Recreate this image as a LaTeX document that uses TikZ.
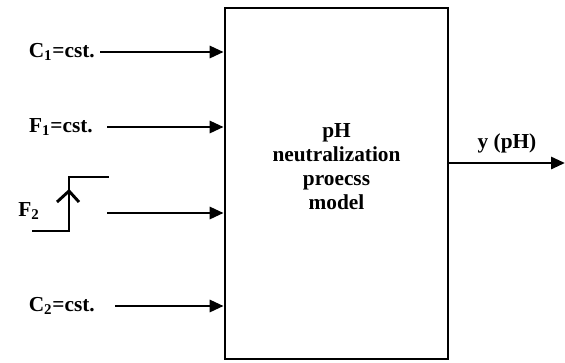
\documentclass[tikz,border=0pt]{standalone}
\usepackage{fontspec}
\setmainfont{Liberation Serif}
\usetikzlibrary{arrows.meta,positioning}
\tikzset{
  block/.style={draw=black, line width=2pt, minimum width=167.25pt, minimum height=263.25pt, inner sep=0pt, align=center, font=\bfseries\fontsize{16}{18.5}\selectfont},
  flow/.style={-{Triangle[length=10.5pt,width=9pt]}, black, line width=2.2pt},
  lab/.style={text=black, inner sep=0pt, font=\bfseries\fontsize{16}{18}\selectfont},
  stepline/.style={black, line width=2.2pt},
}

\begin{document}
\begin{tikzpicture}[x=0.75pt, y=-0.75pt]
  \useasboundingbox (0,0) rectangle (565,362);
  % process block
  \node[block] (model) at (336.5,183.5) {};
  \node[lab, align=center] (title) at (336.5,167) {pH\\neutralization\\proecss\\model};

  % constant inputs
  \node[lab, anchor=east] (c1) at (95,52) {C\textsubscript{1}=cst.};
  \node[lab, anchor=east] (f1) at (93,127) {F\textsubscript{1}=cst.};
  \node[lab, anchor=east] (c2) at (95,306) {C\textsubscript{2}=cst.};
  \coordinate (c1s) at (100,52);
  \coordinate (f1s) at (107,127);
  \coordinate (c2s) at (115,306);
  \draw[flow] (c1s) -- (c1s -| model.west);
  \draw[flow] (f1s) -- (f1s -| model.west);
  \draw[flow] (c2s) -- (c2s -| model.west);

  % step input F2
  \node[lab] (f2) at (29,211) {F\textsubscript{2}};
  \draw[stepline] (32,231) -- (69,231) -- (69,177) -- (109,177);
  \draw[stepline] (57,202) -- (69,191) -- (79,202);
  \coordinate (f2s) at (107,213);
  \draw[flow] (f2s) -- (f2s -| model.west);

  % output
  \coordinate (out) at (565,163);
  \draw[flow] (model.east |- out) -- (out);
  \node[lab] (y) at (507,143) {y (pH)};
\end{tikzpicture}
\end{document}
